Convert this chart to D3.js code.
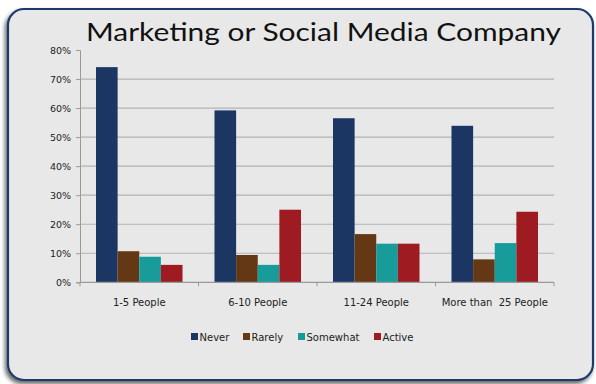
<!DOCTYPE html>
<html>
<head>
<meta charset="utf-8">
<script src="https://cdn.jsdelivr.net/npm/d3@7"></script>
<style>
  html, body { margin: 0; padding: 0; background: #ffffff; }
  svg { display: block; }
</style>
</head>
<body>
<svg id="chart" width="596" height="384"></svg>
<script>
// Company size groups and response shares (percent)
const categories = ["1-5 People", "6-10 People", "11-24 People", "More than  25 People"];
const seriesNames = ["Never", "Rarely", "Somewhat", "Active"];
const never    = [74.1, 59.2, 56.5, 53.9];
const rarely   = [10.7, 9.4, 16.6, 7.9];
const somewhat = [8.8, 6.0, 13.3, 13.5];
const active   = [6.0, 25.0, 13.3, 24.3];
const yTicks = [0, 10, 20, 30, 40, 50, 60, 70, 80];
const colors = ["#1c3664", "#653815", "#179c9b", "#9d1b21"];

const seriesValues = [never, rarely, somewhat, active];
const rows = categories.map((c, i) => ({
  category: c,
  values: seriesNames.map((s, k) => ({ series: s, value: seriesValues[k][i] }))
}));

const svg = d3.select("#chart");
const labelFont = "'DejaVu Sans', Verdana, sans-serif";

// Drop shadow for the framed panel
const defs = svg.append("defs");
const f = defs.append("filter").attr("id", "shadow")
  .attr("x", "-10%").attr("y", "-10%").attr("width", "120%").attr("height", "120%");
f.append("feDropShadow").attr("dx", -2).attr("dy", 3).attr("stdDeviation", 2)
  .attr("flood-color", "#000").attr("flood-opacity", 0.6);

// Rounded panel
svg.append("rect")
  .attr("x", 8).attr("y", 9).attr("width", 585).attr("height", 371)
  .attr("rx", 16).attr("ry", 16)
  .attr("fill", "#e8e8e8")
  .attr("stroke", "#1e3a6c").attr("stroke-width", 2.2)
  .attr("filter", "url(#shadow)");

// Title
svg.append("text")
  .attr("x", 86).attr("y", 41)
  .attr("textLength", 475).attr("lengthAdjust", "spacingAndGlyphs")
  .attr("font-family", "Lato, 'Noto Sans', sans-serif")
  .attr("font-weight", 400)
  .attr("font-size", 25)
  .attr("fill", "#111")
  .text("Marketing or Social Media Company");

// Plot area
const m = { left: 80, right: 554, top: 50, bottom: 282.3 };
const x0 = d3.scaleBand().domain(categories).range([m.left, m.right]).paddingInner(0.27).paddingOuter(0.135);
const x1 = d3.scaleBand().domain(seriesNames).range([0, x0.bandwidth()]);
const y = d3.scaleLinear().domain([0, 80]).range([m.bottom, m.top]);
const color = d3.scaleOrdinal().domain(seriesNames).range(colors);

// Horizontal gridlines
svg.append("g").selectAll("line")
  .data(yTicks.filter(t => t > 0 && t < 80))
  .join("line")
  .attr("x1", m.left).attr("x2", m.right)
  .attr("y1", d => y(d)).attr("y2", d => y(d))
  .attr("stroke", "#b3b3b3").attr("stroke-width", 1.2);

// Y axis
const yAxis = svg.append("g")
  .attr("transform", `translate(${m.left},0)`)
  .call(d3.axisLeft(y).tickValues(yTicks).tickFormat(d => d + "%").tickSize(4).tickPadding(5));
yAxis.select(".domain").attr("stroke", "#999");
yAxis.selectAll(".tick line").attr("stroke", "#999");
yAxis.selectAll("text")
  .attr("font-family", labelFont).attr("font-size", 9.5).attr("fill", "#222");

// Bars
const groups = svg.append("g").selectAll("g")
  .data(rows).join("g")
  .attr("transform", d => `translate(${x0(d.category)},0)`);
groups.selectAll("rect")
  .data(d => d.values).join("rect")
  .attr("x", d => x1(d.series))
  .attr("width", x1.bandwidth())
  .attr("y", d => y(d.value))
  .attr("height", d => y(0) - y(d.value))
  .attr("fill", d => color(d.series));

// X axis with boundary ticks between groups
const xb = d3.scaleLinear().domain([0, categories.length]).range([m.left, m.right]);
const xAxis = svg.append("g").attr("transform", `translate(0,${m.bottom})`);
xAxis.append("line").attr("x1", m.left).attr("x2", m.right)
  .attr("stroke", "#999").attr("stroke-width", 1.2);
xAxis.selectAll("line.tk")
  .data(d3.range(categories.length + 1)).join("line").attr("class", "tk")
  .attr("x1", d => xb(d)).attr("x2", d => xb(d))
  .attr("y1", 0).attr("y2", 4).attr("stroke", "#999");
xAxis.selectAll("text")
  .data(categories).join("text")
  .attr("x", d => x0(d) + x0.bandwidth() / 2)
  .attr("y", 24)
  .attr("text-anchor", "middle")
  .attr("font-family", labelFont).attr("font-size", 10).attr("fill", "#222")
  .style("white-space", "pre")
  .text(d => d);

// Legend
const legendX = [191, 243, 298, 374];
const legend = svg.append("g").attr("transform", "translate(0,337)");
const li = legend.selectAll("g").data(seriesNames).join("g")
  .attr("transform", (d, i) => `translate(${legendX[i]},0)`);
li.append("rect").attr("x", 0).attr("y", -4).attr("width", 7).attr("height", 7)
  .attr("fill", d => color(d));
li.append("text").attr("x", 8.5).attr("y", 3.5)
  .attr("font-family", labelFont).attr("font-size", 10).attr("fill", "#222")
  .text(d => d);
</script>
</body>
</html>
